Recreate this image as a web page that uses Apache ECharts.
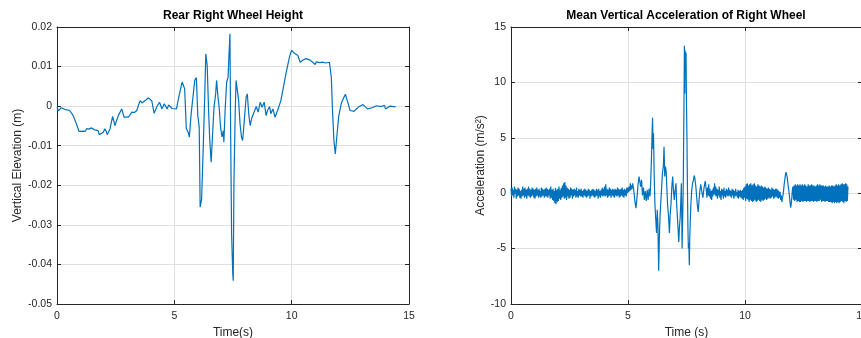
<!DOCTYPE html>
<html><head><meta charset="utf-8">
<script src="https://cdn.jsdelivr.net/npm/echarts@6/dist/echarts.min.js"></script>
<style>html,body{margin:0;padding:0;background:#fff;overflow:hidden}#c{width:861px;height:338px}</style>
</head><body><div id="c"></div>
<script>
// ---- Left plot: Rear Right Wheel Height ----
const leftTitle = 'Rear Right Wheel Height';
const heightTime = [0,0.06,0.11,0.18,0.26,0.33,0.4,0.54,0.69,0.83,0.94,1.0,1.05,1.11,1.2,1.26,1.35,1.47,1.55,1.61,1.69,1.75,1.8,1.88,1.97,2.04,2.1,2.14,2.2,2.26,2.37,2.47,2.61,2.76,2.86,3.04,3.19,3.3,3.4,3.54,3.62,3.69,3.8,3.9,4.04,4.14,4.26,4.37,4.47,4.57,4.69,4.76,4.83,4.9,4.97,5.09,
 5.19,5.33,5.4,5.44,5.51,5.59,5.64,5.71,5.8,5.87,5.94,6.0,6.06,6.1,6.16,6.23,6.29,6.34,6.4,6.46,6.51,6.57,6.63,6.69,6.76,6.8,6.86,6.91,6.97,7.03,7.09,7.11,7.17,7.23,7.29,7.33,7.37,7.4,7.44,7.49,7.51,7.54,7.59,7.63,7.69,7.74,7.8,7.86,7.91,7.97,8.06,8.11,8.17,8.23,8.31,8.4,8.49,8.57,8.66,8.74,8.83,8.91,8.97,9.06,9.11,9.2,9.29,9.4,9.54,9.66,9.77,9.86,9.94,
 10.0,10.05,10.11,10.18,10.26,10.3,10.36,10.4,10.47,10.52,10.61,10.67,10.76,10.82,10.9,10.95,11.0,11.05,11.11,11.2,11.33,11.4,11.45,11.51,11.61,11.69,11.74,11.8,11.86,11.91,12.0,12.11,12.2,12.29,12.37,12.49,12.66,12.83,13.04,13.23,13.43,13.61,13.83,13.9,13.95,14.0,14.05,14.11,14.2,14.33,14.43];
const heightValue = [-0.0003,-0.0012,-0.001,-0.0004,-0.0002,-0.0008,-0.0004,-0.0011,-0.0024,-0.0045,-0.0064,-0.0067,-0.0063,-0.0066,-0.0064,-0.0057,-0.0058,-0.0055,-0.0059,-0.006,-0.0056,-0.0062,-0.0072,-0.0068,-0.0066,-0.0057,-0.0064,-0.0072,-0.0068,-0.0057,-0.0026,-0.0049,-0.0024,-0.0007,-0.0028,-0.0028,-0.0015,-0.0016,-0.0011,0.0014,0.0008,0.001,0.0016,0.0021,0.0013,-0.0018,-0.0001,0.001,-0.0007,0.0006,-0.0007,0.0003,0.0002,-0.0006,-0.0003,-0.0007,
 0.0023,0.0061,0.0063,0.0044,-0.0057,-0.0066,-0.0078,-0.0024,0.0027,0.0065,0.0072,-0.0024,-0.0053,-0.0255,-0.0237,-0.0108,0.0014,0.0132,0.0103,-0.0011,-0.0087,-0.0142,-0.007,-0.0003,0.0031,0.0065,0.0023,-0.0003,-0.0053,-0.0078,-0.0062,-0.0091,-0.0003,0.0061,0.0073,0.0132,0.0183,-0.007,-0.0323,-0.0424,-0.0441,-0.0196,-0.0028,0.0065,0.0061,0.0014,-0.0045,-0.0078,-0.0087,-0.0045,0.0023,0.0031,-0.0019,-0.0049,-0.0028,-0.0015,-0.0001,-0.0015,0.001,-0.0003,0.001,-0.0024,-0.0011,-0.0001,-0.0019,-0.0007,-0.0028,-0.0011,0.0014,0.0052,0.0086,0.0111,0.0132,
 0.0141,0.0136,0.0134,0.0131,0.0128,0.0122,0.0111,0.0113,0.0116,0.0121,0.012,0.0122,0.0117,0.0113,0.0111,0.0108,0.0105,0.0112,0.0113,0.011,0.0111,0.0113,0.0109,0.0114,0.0111,0.0073,-0.0011,-0.0087,-0.0121,-0.0087,-0.0028,0.0006,0.0019,0.003,0.0014,-0.0011,-0.0013,-0.0003,0.0004,-0.0007,-0.0004,0.0001,-0.0001,-0.0004,0.0002,-0.0007,-0.0005,-0.0003,0.0,-0.0001,-0.0001];
const heightTicks = {min: -0.05, max: 0.02, step: 0.01};

// ---- Right plot: Mean Vertical Acceleration of Right Wheel ----
const rightTitle = 'Mean Vertical Acceleration of Right Wheel';
const accStep = 0.025;
const accNoiseAStart = 0;
const accNoiseA = [
 0.4,-0.3,0.5,-0.2,0.3,-0.4,0.6,0.0,0.4,-0.5,0.3,-0.3,0.5,-0.2,0.4,-0.4,0.2,-0.5,0.3,-0.3,
 0.6,-0.2,0.4,-0.4,0.5,-0.3,0.3,-0.5,0.4,-0.2,0.6,-0.3,0.4,-0.4,0.3,-0.3,0.5,-0.2,0.4,-0.4,
 0.3,-0.5,0.4,-0.3,0.5,-0.2,0.3,-0.4,0.4,-0.3,0.2,-0.4,0.5,-0.3,0.4,-0.2,0.3,-0.4,0.4,-0.3,
 0.5,-0.3,0.4,-0.4,0.3,-0.2,0.4,-0.5,0.6,-0.4,0.3,-0.6,0.4,-0.7,0.2,-0.9,0.5,-1.0,0.3,-0.8,
 0.4,-0.7,0.6,-0.5,0.3,-0.6,0.5,-0.4,0.7,-0.3,0.9,-0.5,1.0,-0.4,0.7,-0.6,0.5,-0.3,0.4,-0.5,
 0.3,-0.4,0.5,-0.2,0.4,-0.5,0.3,-0.3,0.4,-0.2,0.3,-0.4,0.5,-0.3,0.2,-0.4,0.4,-0.2,0.3,-0.3,
 0.4,-0.3,0.2,-0.4,0.3,-0.2,0.4,-0.3,0.3,-0.4,0.2,-0.3,0.4,-0.2,0.3,-0.5,0.2,-0.3,0.3,-0.2,
 0.4,-0.3,0.3,-0.4,0.2,-0.3,0.4,-0.2,0.3,-0.5,0.4,-0.3,0.2,-0.4,0.3,-0.2,0.5,-0.3,0.4,-0.2,
 0.6,-0.3,0.8,-0.2,0.4,-0.4,0.3,-0.3,0.5,-0.2,0.4,-0.4,0.3,-0.2,0.4,-0.3,0.3,-0.4,0.4,-0.2,
 0.3,-0.3,0.5,-0.2,0.4,-0.4,0.3,-0.3,0.4,-0.2,0.5,-0.3,0.3,-0.4,0.4,-0.2,0.3,-0.3,0.5,0.0,
 0.5,0.1,0.6,0.2,0.9,0.3,0.7,0.4];
const accEventTime = [5.2,5.25,5.3,5.34,5.38,5.43,5.47,5.51,5.54,5.58,5.62,5.66,5.7,5.74,5.78,5.82,5.86,5.9,5.94,5.97,6.0,6.03,6.05,6.07,6.09,6.12,6.15,6.19,6.22,6.25,6.28,6.31,6.34,6.37,6.41,6.44,6.47,6.51,6.54,6.57,6.6,6.63,6.66,6.69,6.73,6.77,6.8,6.84,6.87,6.91,6.94,6.98,7.01,7.05,7.08,7.12,7.17,7.2,7.23,7.26,7.28,7.3,7.31,7.34,7.36,7.38,7.4,7.41,7.43,7.44,7.46,7.48,7.5,7.52,7.54,7.56,7.58,7.6,7.62,7.64,7.67,7.69,7.72,7.76,7.8,7.83,7.86,7.9,7.94,7.97,8.0,8.03,8.07,8.11,8.15,8.2,8.25,8.3];
const accEventValue = [0.9,0.2,-0.8,-1.35,-0.5,0.8,1.5,1.6,0.6,1.2,-0.2,0.5,-0.6,0.2,-0.7,0.3,-0.6,0.4,-0.3,1.0,3.0,5.5,6.8,4.0,5.4,1.5,-1.0,-2.5,-3.6,-1.5,-3.0,-7.0,-4.0,-2.0,-0.5,0.6,1.8,2.4,4.2,1.5,2.4,2.0,0.5,-1.0,-2.0,-3.6,-2.0,-0.9,0.5,1.5,0.3,-0.6,0.2,0.9,-1.0,-2.5,-4.4,-3.0,-2.2,-0.5,0.9,-2.5,-5.0,-2.0,0.5,5.1,10.0,13.3,9.0,12.9,11.1,12.7,8.0,4.9,0.5,-3.0,-5.0,-4.5,-6.5,-4.0,-2.0,-0.9,0.2,0.9,1.2,1.6,1.3,0.6,-0.5,-1.2,-1.7,-0.8,0.2,0.8,0.2,-0.4,0.5,1.1];
const accNoiseBStart = 8.35;
const accNoiseB = [
 0.2,-0.4,0.5,-0.2,0.8,-0.3,0.4,-0.5,0.2,-0.6,0.3,-0.3,0.5,-0.1,0.9,-0.2,0.6,-0.3,0.4,-0.5,
 0.3,-0.2,0.6,-0.4,0.2,-0.6,0.4,-0.2,0.3,-0.5,0.5,-0.3,0.2,-0.4,0.4,-0.2,0.3,-0.3,0.5,-0.2,
 0.3,-0.3,0.2,-0.4,0.4,-0.2,0.3,-0.5,0.2,-0.3,0.4,-0.2,0.1,-0.4,0.3,-0.5,0.2,-0.3,0.3,-0.4,
 0.2,-0.5,0.3,-0.6,0.5,-0.4,0.6,-0.7,0.8,-0.5,0.9,-0.6,0.7,-0.8,0.8,-0.6,0.9,-0.7,0.7,-0.8,
 0.8,-0.7,0.9,-0.6,0.7,-0.8,0.6,-0.7,0.8,-0.6,0.7,-0.7,0.6,-0.8,0.7,-0.6,0.6,-0.7,0.5,-0.6,
 0.6,-0.5,0.5,-0.6,0.4,-0.5,0.5,-0.4,0.4,-0.5,0.3,-0.4,0.5,-0.3,0.4,-0.5,0.3,-0.4,0.4,-0.3,
 0.4,-0.4,0.3,-0.5,0.2,-0.4,0.1,-0.6,-0.2,-0.8,-0.4,-0.2,0.3,0.8,1.2,1.6,1.9,1.7,1.5,1.0,
 0.6,0.2,-0.3,-0.8,-1.3,-1.0,-0.4,0.3,0.6,-0.6,0.7,-0.7,0.8,-0.6,0.7,-0.8,0.8,-0.7,0.7,-0.8,
 0.8,-0.8,0.7,-0.7,0.8,-0.8,0.7,-0.7,0.8,-0.7,0.7,-0.8,0.6,-0.7,0.8,-0.7,0.7,-0.8,0.7,-0.7,
 0.8,-0.7,0.7,-0.8,0.7,-0.7,0.6,-0.7,0.7,-0.8,0.8,-0.7,0.7,-0.7,0.8,-0.6,0.7,-0.8,0.7,-0.7,
 0.7,-0.7,0.6,-0.8,0.7,-0.7,0.6,-0.7,0.6,-0.8,0.7,-0.8,0.6,-0.8,0.7,-0.9,0.7,-0.8,0.6,-0.9,
 0.7,-0.8,0.8,-0.9,0.7,-0.8,0.8,-0.9,0.7,-0.8,0.8,-0.7,0.9,-0.8,0.8,-0.9,0.8,-0.7,0.9,-0.8,
 0.8,-0.7,0.6];
const accTicks = {min: -10, max: 15, step: 5};
const timeTicks = {min: 0, max: 15, step: 5};

// ---- build data ----
const leftData = heightTime.map((t, i) => [t, heightValue[i]]);
const rightData = [];
accNoiseA.forEach((v, i) => rightData.push([+(accNoiseAStart + i * accStep).toFixed(3), v]));
accEventTime.forEach((t, i) => rightData.push([t, accEventValue[i]]));
accNoiseB.forEach((v, i) => rightData.push([+(accNoiseBStart + i * accStep).toFixed(3), v]));

const AX = '#262626', GRID = '#dfdfdf', FONT = 'Liberation Sans, Arial, Helvetica, sans-serif';
const LINE = '#0072BD';

function fmt(v) { const r = +v.toFixed(4); return r === 0 ? '0' : String(r); }

function xMain(gi, name) {
  return {
    type: 'value', gridIndex: gi, position: 'bottom', min: timeTicks.min, max: timeTicks.max, interval: timeTicks.step,
    name: name, nameLocation: 'middle', nameGap: 22,
    nameTextStyle: {color: AX, fontSize: 12, fontFamily: FONT},
    axisLine: {show: true, onZero: false, lineStyle: {color: AX, width: 1}},
    axisTick: {show: true, inside: true, length: 4, lineStyle: {color: AX}},
    axisLabel: {color: AX, fontSize: 10.5, fontFamily: FONT, margin: 7, formatter: fmt, showMaxLabel: true, hideOverlap: false},
    splitLine: {show: true, lineStyle: {color: GRID, width: 1}}
  };
}
function xTop(gi) {
  return {
    type: 'value', gridIndex: gi, position: 'top', min: timeTicks.min, max: timeTicks.max, interval: timeTicks.step,
    axisLine: {show: true, onZero: false, lineStyle: {color: AX, width: 1}},
    axisTick: {show: true, inside: true, length: 4, lineStyle: {color: AX}},
    axisLabel: {show: false}, splitLine: {show: false}
  };
}
function yMain(gi, tk, name, gap) {
  return {
    type: 'value', gridIndex: gi, position: 'left', min: tk.min, max: tk.max, interval: tk.step,
    name: name, nameLocation: 'middle', nameGap: gap,
    nameTextStyle: {color: AX, fontSize: 12, fontFamily: FONT},
    axisLine: {show: true, onZero: false, lineStyle: {color: AX, width: 1}},
    axisTick: {show: true, inside: true, length: 4, lineStyle: {color: AX}},
    axisLabel: {color: AX, fontSize: 10.5, fontFamily: FONT, margin: 5, formatter: fmt},
    splitLine: {show: true, lineStyle: {color: GRID, width: 1}}
  };
}
function yRight(gi, tk) {
  return {
    type: 'value', gridIndex: gi, position: 'right', min: tk.min, max: tk.max, interval: tk.step,
    axisLine: {show: true, onZero: false, lineStyle: {color: AX, width: 1}},
    axisTick: {show: true, inside: true, length: 4, lineStyle: {color: AX}},
    axisLabel: {show: false}, splitLine: {show: false}
  };
}

const chart = echarts.init(document.getElementById('c'), null, {renderer: 'canvas'});
chart.setOption({
  animation: false,
  backgroundColor: '#fff',
  title: [
    {text: leftTitle, left: 233, top: 10, padding: 0, textAlign: 'center',
     textStyle: {fontSize: 12, fontWeight: 'bold', color: '#000', fontFamily: FONT}},
    {text: rightTitle, left: 686, top: 10, padding: 0, textAlign: 'center',
     textStyle: {fontSize: 12, fontWeight: 'bold', color: '#000', fontFamily: FONT}}
  ],
  grid: [
    {left: 57, top: 27, width: 352, height: 277, containLabel: false, outerBoundsMode: 'none'},
    {left: 511, top: 27, width: 351, height: 277, containLabel: false, outerBoundsMode: 'none'}
  ],
  xAxis: [xMain(0, 'Time(s)'), xTop(0), xMain(1, 'Time (s)'), xTop(1)],
  yAxis: [yMain(0, heightTicks, 'Vertical Elevation (m)', 33), yRight(0, heightTicks),
          yMain(1, accTicks, 'Acceleration (m/s\u00B2)', 24), yRight(1, accTicks)],
  series: [
    {type: 'line', xAxisIndex: 0, yAxisIndex: 0, data: leftData, showSymbol: false, symbol: 'none',
     lineStyle: {color: LINE, width: 1.2}, itemStyle: {color: LINE}, silent: true},
    {type: 'line', xAxisIndex: 2, yAxisIndex: 2, data: rightData, showSymbol: false, symbol: 'none',
     lineStyle: {color: LINE, width: 1.2}, itemStyle: {color: LINE}, silent: true}
  ]
});
</script>
</body></html>
